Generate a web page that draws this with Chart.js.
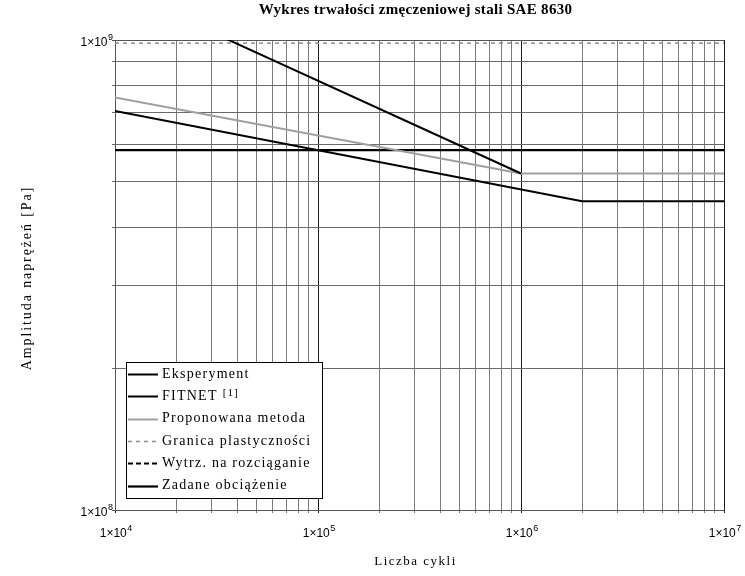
<!DOCTYPE html>
<html>
<head>
<meta charset="utf-8">
<script src="https://cdn.jsdelivr.net/npm/chart.js@4/dist/chart.umd.min.js"></script>
<style>
html,body{margin:0;padding:0;background:#fff;}
canvas{display:block;}
</style>
</head>
<body>
<canvas id="c" width="745" height="576"></canvas>
<script>
// ---- data ----
const chartTitle = 'Wykres trwałości zmęczeniowej stali SAE 8630';
const xAxisTitle = 'Liczba cykli';
const yAxisTitle = 'Amplituda naprężeń [Pa]';

const xDecades = [1e4, 1e5, 1e6, 1e7];
const xTickBase = ['1×10', '1×10', '1×10', '1×10'];
const xTickExp = ['4', '5', '6', '7'];
const yDecades = [1e8, 1e9];
const yTickBase = ['1×10', '1×10'];
const yTickExp = ['8', '9'];

const seriesLabels = ['Eksperyment', 'FITNET', 'Proponowana metoda', 'Granica plastyczności', 'Wytrz. na rozciąganie', 'Zadane obciążenie'];
const fitnetRef = '[1]';

const eksperymentX = [1e4, 1e6];
const eksperymentY = [1.29e9, 5.2e8];
const fitnetX = [1e4, 2e6, 1e7];
const fitnetY = [7.06e8, 4.54e8, 4.54e8];
const proponowanaX = [1e4, 1e6, 1e7];
const proponowanaY = [7.55e8, 5.2e8, 5.2e8];
const granicaX = [1e4, 1e7];
const granicaY = [9.85e8, 9.85e8];
const wytrzX = [1e4, 1e7];
const wytrzY = [1.1e9, 1.1e9];
const zadaneX = [1e4, 1e7];
const zadaneY = [5.83e8, 5.83e8];

// ---- build ----
function pts(xs, ys) { return xs.map((x, i) => ({ x: x, y: ys[i] })); }
function minorTicks(decades) {
  const out = [];
  for (let d = 0; d < decades.length - 1; d++) {
    for (let m = 1; m <= 9; m++) out.push({ value: decades[d] * m });
  }
  out.push({ value: decades[decades.length - 1] });
  return out;
}
function isDecade(v, decades) { return decades.some(d => Math.abs(v / d - 1) < 1e-9); }

const styles = [
  { color: '#000000', width: 2, dash: [] },
  { color: '#000000', width: 2, dash: [] },
  { color: '#a0a0a0', width: 2, dash: [] },
  { color: '#8c8c8c', width: 1.5, dash: [4, 4] },
  { color: '#000000', width: 2, dash: [5, 3] },
  { color: '#000000', width: 2.2, dash: [] }
];
const seriesData = [
  pts(eksperymentX, eksperymentY),
  pts(fitnetX, fitnetY),
  pts(proponowanaX, proponowanaY),
  pts(granicaX, granicaY),
  pts(wytrzX, wytrzY),
  pts(zadaneX, zadaneY)
];

const datasets = seriesData.map((d, i) => ({
  label: seriesLabels[i],
  data: d,
  borderColor: styles[i].color,
  borderWidth: styles[i].width,
  borderDash: styles[i].dash,
  pointRadius: 0,
  fill: false,
  tension: 0
}));

Chart.defaults.font.family = '"Liberation Sans", Arial, sans-serif';
Chart.defaults.font.size = 11;
Chart.defaults.color = '#000';

const SERIF = '"Liberation Serif", "Times New Roman", serif';
const SANS = '"Liberation Sans", Arial, sans-serif';

function powLabel(ctx, base, exp, x, baseline, align) {
  ctx.font = '12px ' + SANS;
  const wb = ctx.measureText(base).width;
  ctx.font = '9px ' + SANS;
  const we = ctx.measureText(exp).width;
  const total = wb + we + 0.5;
  let x0 = x;
  if (align === 'center') x0 = x - total / 2;
  else if (align === 'right') x0 = x - total;
  ctx.textAlign = 'left';
  ctx.textBaseline = 'alphabetic';
  ctx.font = '12px ' + SANS;
  ctx.fillText(base, x0, baseline);
  ctx.font = '9px ' + SANS;
  ctx.fillText(exp, x0 + wb + 0.5, baseline - 6);
}

const decor = {
  id: 'decor',
  afterDraw(chart) {
    const ctx = chart.ctx;
    const ca = chart.chartArea;
    const xs = chart.scales.x, ys = chart.scales.y;
    const cx = (ca.left + ca.right) / 2 - 4;
    ctx.save();
    ctx.fillStyle = '#000';
    // tick labels
    ctx.letterSpacing = '0px';
    xDecades.forEach((v, i) => powLabel(ctx, xTickBase[i], xTickExp[i], xs.getPixelForValue(v) + 1, 537, 'center'));
    yDecades.forEach((v, i) => powLabel(ctx, yTickBase[i], yTickExp[i], ca.left - 2, ys.getPixelForValue(v) + 6, 'right'));
    // title
    ctx.font = 'bold 15px ' + SERIF;
    ctx.letterSpacing = '0.3px';
    ctx.textAlign = 'center';
    ctx.textBaseline = 'alphabetic';
    ctx.fillText(chartTitle, cx, 14);
    // x title
    ctx.font = '13px ' + SERIF;
    ctx.letterSpacing = '1.5px';
    ctx.fillText(xAxisTitle, cx, 565);
    // y title
    ctx.save();
    ctx.translate(31, (ca.top + ca.bottom) / 2 + 3);
    ctx.rotate(-Math.PI / 2);
    ctx.font = '14px ' + SERIF;
    ctx.letterSpacing = '1.9px';
    ctx.fillText(yAxisTitle, 0, 0);
    ctx.restore();
    // legend
    const lx = 126, ly = 362, lw = 196, lh = 136;
    ctx.letterSpacing = '0px';
    ctx.fillStyle = '#fff';
    ctx.fillRect(lx, ly, lw, lh);
    ctx.strokeStyle = '#000';
    ctx.lineWidth = 1;
    ctx.setLineDash([]);
    ctx.strokeRect(lx + 0.5, ly + 0.5, lw, lh);
    chart.data.datasets.forEach((ds, i) => {
      const y = 374 + i * 22.3;
      ctx.beginPath();
      ctx.strokeStyle = ds.borderColor;
      ctx.lineWidth = ds.borderWidth;
      ctx.setLineDash(ds.borderDash || []);
      ctx.moveTo(128, Math.round(y) + 0.5);
      ctx.lineTo(158, Math.round(y) + 0.5);
      ctx.stroke();
      ctx.setLineDash([]);
      ctx.fillStyle = '#000';
      ctx.font = '14px ' + SERIF;
      ctx.letterSpacing = '1.25px';
      ctx.textAlign = 'left';
      ctx.textBaseline = 'middle';
      ctx.fillText(ds.label, 162, y);
      if (i === 1) {
        const w = ctx.measureText(ds.label).width;
        ctx.font = '11px ' + SERIF;
        ctx.letterSpacing = '1px';
        ctx.fillText(fitnetRef, 162 + w + 5, y - 3);
      }
    });
    ctx.restore();
  }
};

new Chart(document.getElementById('c'), {
  type: 'line',
  data: { datasets: datasets },
  options: {
    responsive: false,
    animation: false,
    devicePixelRatio: 1,
    layout: { padding: { top: 40, right: 21, left: 0, bottom: 0 } },
    plugins: { legend: { display: false }, title: { display: false }, tooltip: { enabled: false } },
    scales: {
      x: {
        type: 'logarithmic',
        min: xDecades[0],
        max: xDecades[xDecades.length - 1],
        afterBuildTicks: s => { s.ticks = minorTicks(xDecades); },
        afterFit: s => { s.height = 66; },
        ticks: { autoSkip: false, maxRotation: 0, minRotation: 0, callback: () => '' },
        grid: {
          color: c => (c.tick && isDecade(c.tick.value, xDecades)) ? '#1a1a1a' : '#7a7a7a',
          tickLength: 3,
          lineWidth: 1
        },
        border: { color: '#555', width: 1 }
      },
      y: {
        type: 'logarithmic',
        min: yDecades[0],
        max: yDecades[yDecades.length - 1],
        afterBuildTicks: s => { s.ticks = minorTicks(yDecades); },
        afterFit: s => { s.width = 115; },
        ticks: { autoSkip: false, callback: () => '' },
        grid: {
          color: c => (c.tick && isDecade(c.tick.value, yDecades)) ? '#555' : '#6a6a6a',
          tickLength: 3,
          lineWidth: 1
        },
        border: { color: '#555', width: 1 }
      }
    }
  },
  plugins: [decor]
});
</script>
</body>
</html>
